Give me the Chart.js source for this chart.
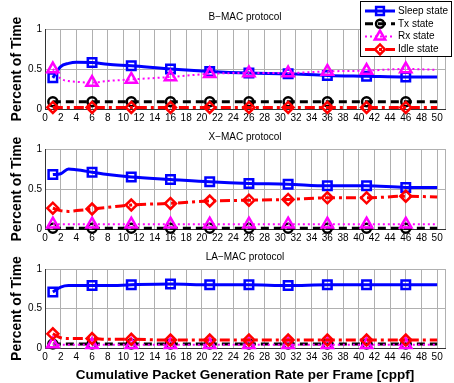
<!DOCTYPE html>
<html>
<head>
<meta charset="utf-8">
<script src="https://cdn.jsdelivr.net/npm/chart.js@4"></script>
<style>
  body { margin: 0; background: #fff; }
  #wrap { position: relative; width: 454px; height: 383px; }
  canvas { position: absolute; left: 0; }
</style>
</head>
<body>
<div id="wrap">
  <canvas id="bmac" width="454" height="125" style="top:0px"></canvas>
  <canvas id="xmac" width="454" height="125" style="top:120px"></canvas>
  <canvas id="lamac" width="454" height="143" style="top:240px"></canvas>
</div>
<script>
// x positions where values were read, and where markers are drawn
const rates = [1, 2, 3, 4, 6, 8, 11, 16, 21, 26, 31, 36, 41, 46, 50];
const markerRates = [1, 6, 11, 16, 21, 26, 31, 36, 41, 46];
const xTicks = [0, 2, 4, 6, 8, 10, 12, 14, 16, 18, 20, 22, 24, 26, 28, 30, 32, 34, 36, 38, 40, 42, 44, 46, 48, 50];
const yTicks = [0, 0.5, 1];

// B-MAC
const bmacSleep = [0.39, 0.53, 0.57, 0.585, 0.58, 0.56, 0.54, 0.50, 0.47, 0.45, 0.44, 0.42, 0.41, 0.40, 0.40];
const bmacTx    = [0.09, 0.09, 0.09, 0.09, 0.09, 0.09, 0.09, 0.09, 0.09, 0.09, 0.09, 0.09, 0.09, 0.09, 0.09];
const bmacRx    = [0.50, 0.38, 0.35, 0.34, 0.33, 0.35, 0.37, 0.40, 0.44, 0.45, 0.45, 0.47, 0.48, 0.50, 0.49];
const bmacIdle  = [0.02, 0.02, 0.02, 0.02, 0.02, 0.02, 0.02, 0.02, 0.02, 0.02, 0.02, 0.02, 0.02, 0.02, 0.02];

// X-MAC
const xmacSleep = [0.68, 0.69, 0.75, 0.74, 0.71, 0.68, 0.65, 0.62, 0.59, 0.57, 0.56, 0.54, 0.54, 0.52, 0.52];
const xmacTx    = [0.01, 0.01, 0.01, 0.01, 0.01, 0.01, 0.01, 0.01, 0.01, 0.01, 0.01, 0.01, 0.01, 0.01, 0.01];
const xmacRx    = [0.06, 0.06, 0.06, 0.06, 0.06, 0.06, 0.06, 0.06, 0.06, 0.06, 0.06, 0.06, 0.06, 0.06, 0.06];
const xmacIdle  = [0.26, 0.23, 0.22, 0.23, 0.25, 0.27, 0.30, 0.32, 0.35, 0.36, 0.37, 0.39, 0.39, 0.41, 0.40];

// LA-MAC
const lamacSleep = [0.71, 0.77, 0.79, 0.79, 0.79, 0.79, 0.80, 0.81, 0.80, 0.80, 0.79, 0.80, 0.80, 0.80, 0.80];
const lamacTx    = [0.05, 0.05, 0.05, 0.05, 0.05, 0.05, 0.05, 0.05, 0.05, 0.05, 0.05, 0.05, 0.05, 0.05, 0.05];
const lamacRx    = [0.05, 0.04, 0.04, 0.04, 0.04, 0.04, 0.04, 0.04, 0.04, 0.04, 0.04, 0.04, 0.04, 0.04, 0.04];
const lamacIdle  = [0.18, 0.13, 0.12, 0.12, 0.12, 0.11, 0.11, 0.10, 0.10, 0.10, 0.10, 0.10, 0.10, 0.10, 0.10];

Chart.defaults.font.family = '"Liberation Sans", Arial, sans-serif';
Chart.defaults.color = '#000';

const styles = {
  sleep: { label: 'Sleep state', color: '#0000ff', dash: [], width: 3, point: 'rect', radius: 6, order: 3 },
  tx:    { label: 'Tx state', color: '#000000', dash: [8, 5], width: 3, point: 'circle', radius: 4.5, order: 2 },
  rx:    { label: 'Rx state', color: '#ff00ff', dash: [2, 3], width: 2, point: 'triangle', radius: 6.5, order: 1 },
  idle:  { label: 'Idle state', color: '#ff0000', dash: [10, 4, 3, 4], width: 3, point: 'rectRot', radius: 5.5, order: 0 },
};

function makeDataset(key, values) {
  const s = styles[key];
  return {
    label: s.label,
    data: rates.map((x, i) => ({ x: x, y: values[i] })),
    borderColor: s.color,
    borderWidth: s.width,
    borderDash: s.dash,
    cubicInterpolationMode: 'monotone',
    pointStyle: s.point,
    pointRadius: (ctx) => markerRates.includes(rates[ctx.dataIndex]) ? s.radius : 0,
    pointBorderColor: s.color,
    pointBackgroundColor: 'rgba(255,255,255,0)',
    pointBorderWidth: 2.5,
    order: s.order,
    clip: false,
  };
}

// subplot title above the plot area
const plotTitle = {
  id: 'plotTitle',
  afterDraw(chart, args, opts) {
    const { ctx, chartArea } = chart;
    ctx.save();
    ctx.font = '10px "Liberation Sans", Arial, sans-serif';
    ctx.fillStyle = '#000';
    ctx.textAlign = 'center';
    ctx.textBaseline = 'middle';
    ctx.fillText(opts.text, (chartArea.left + chartArea.right) / 2, chartArea.top - 12);
    ctx.restore();
  }
};

// legend box in the top-right, line sample + marker per entry
const boxLegend = {
  id: 'boxLegend',
  afterDraw(chart, args, opts) {
    if (!opts.show) return;
    const { ctx } = chart;
    const bx = 360, by = 1, bw = 92, bh = 56;
    ctx.save();
    ctx.fillStyle = '#fff';
    ctx.fillRect(bx, by, bw, bh);
    ctx.strokeStyle = '#000';
    ctx.lineWidth = 1;
    ctx.strokeRect(bx + 0.5, by + 0.5, bw - 1, bh - 1);
    ['sleep', 'tx', 'rx', 'idle'].forEach((key, i) => {
      const s = styles[key];
      const y = 11 + i * 12.8;
      ctx.strokeStyle = s.color;
      ctx.lineWidth = s.width;
      ctx.setLineDash(s.dash);
      ctx.beginPath();
      ctx.moveTo(365, y);
      ctx.lineTo(395, y);
      ctx.stroke();
      ctx.setLineDash([]);
      ctx.fillStyle = 'rgba(255,255,255,0)';
      ctx.lineWidth = 2.5;
      Chart.helpers.drawPoint(ctx, { pointStyle: s.point, radius: s.radius - 0.5, borderWidth: 2.5, rotation: 0 }, 380, y);
      ctx.fillStyle = '#000';
      ctx.font = '10px "Liberation Sans", Arial, sans-serif';
      ctx.textAlign = 'left';
      ctx.textBaseline = 'middle';
      ctx.fillText(s.label, 398, y);
    });
    ctx.restore();
  }
};

function makeChart(id, title, sleep, tx, rx, idle, showLegend, showXTitle) {
  new Chart(document.getElementById(id), {
    type: 'line',
    data: {
      datasets: [
        makeDataset('sleep', sleep),
        makeDataset('tx', tx),
        makeDataset('rx', rx),
        makeDataset('idle', idle),
      ],
    },
    options: {
      responsive: false,
      animation: false,
      layout: { padding: { top: 29, left: 0, right: 2, bottom: 0 } },
      scales: {
        x: {
          type: 'linear',
          min: 0,
          max: 51,
          afterBuildTicks: (scale) => { scale.ticks = xTicks.map(v => ({ value: v })).concat([{ value: 51 }]); },
          afterFit: (scale) => { scale.height = showXTitle ? 35 : 16; },
          ticks: {
            font: { size: 10 },
            padding: 3,
            maxRotation: 0,
            autoSkip: false,
            callback: (v) => (v % 2 === 0 ? v : ''),
          },
          grid: { color: '#b0b0b0', borderDash: [1, 2], drawTicks: false },
          border: { display: true, color: '#333', width: 1, dash: [] },
          title: {
            display: showXTitle,
            text: 'Cumulative Packet Generation Rate per Frame [cppf]',
            font: { size: 13.5, weight: 'bold' },
            padding: 0,
          },
        },
        y: {
          min: 0,
          max: 1,
          afterBuildTicks: (scale) => { scale.ticks = yTicks.map(v => ({ value: v })); },
          afterFit: (scale) => { scale.width = 45; },
          ticks: { font: { size: 10 }, padding: 3, callback: (v) => String(v) },
          grid: { color: '#b0b0b0', borderDash: [1, 2], drawTicks: false },
          border: { display: true, color: '#333', width: 1 },
          title: {
            display: true,
            text: 'Percent of Time',
            font: { size: 14, weight: 'bold' },
            padding: { top: 9, bottom: 0 },
          },
        },
      },
      plugins: {
        legend: { display: false },
        tooltip: { enabled: false },
        plotTitle: { text: title },
        boxLegend: { show: showLegend },
      },
    },
    plugins: [plotTitle, boxLegend],
  });
}

makeChart('bmac', 'B\u2212MAC protocol', bmacSleep, bmacTx, bmacRx, bmacIdle, true, false);
makeChart('xmac', 'X\u2212MAC protocol', xmacSleep, xmacTx, xmacRx, xmacIdle, false, false);
makeChart('lamac', 'LA\u2212MAC protocol', lamacSleep, lamacTx, lamacRx, lamacIdle, false, true);
</script>
</body>
</html>
